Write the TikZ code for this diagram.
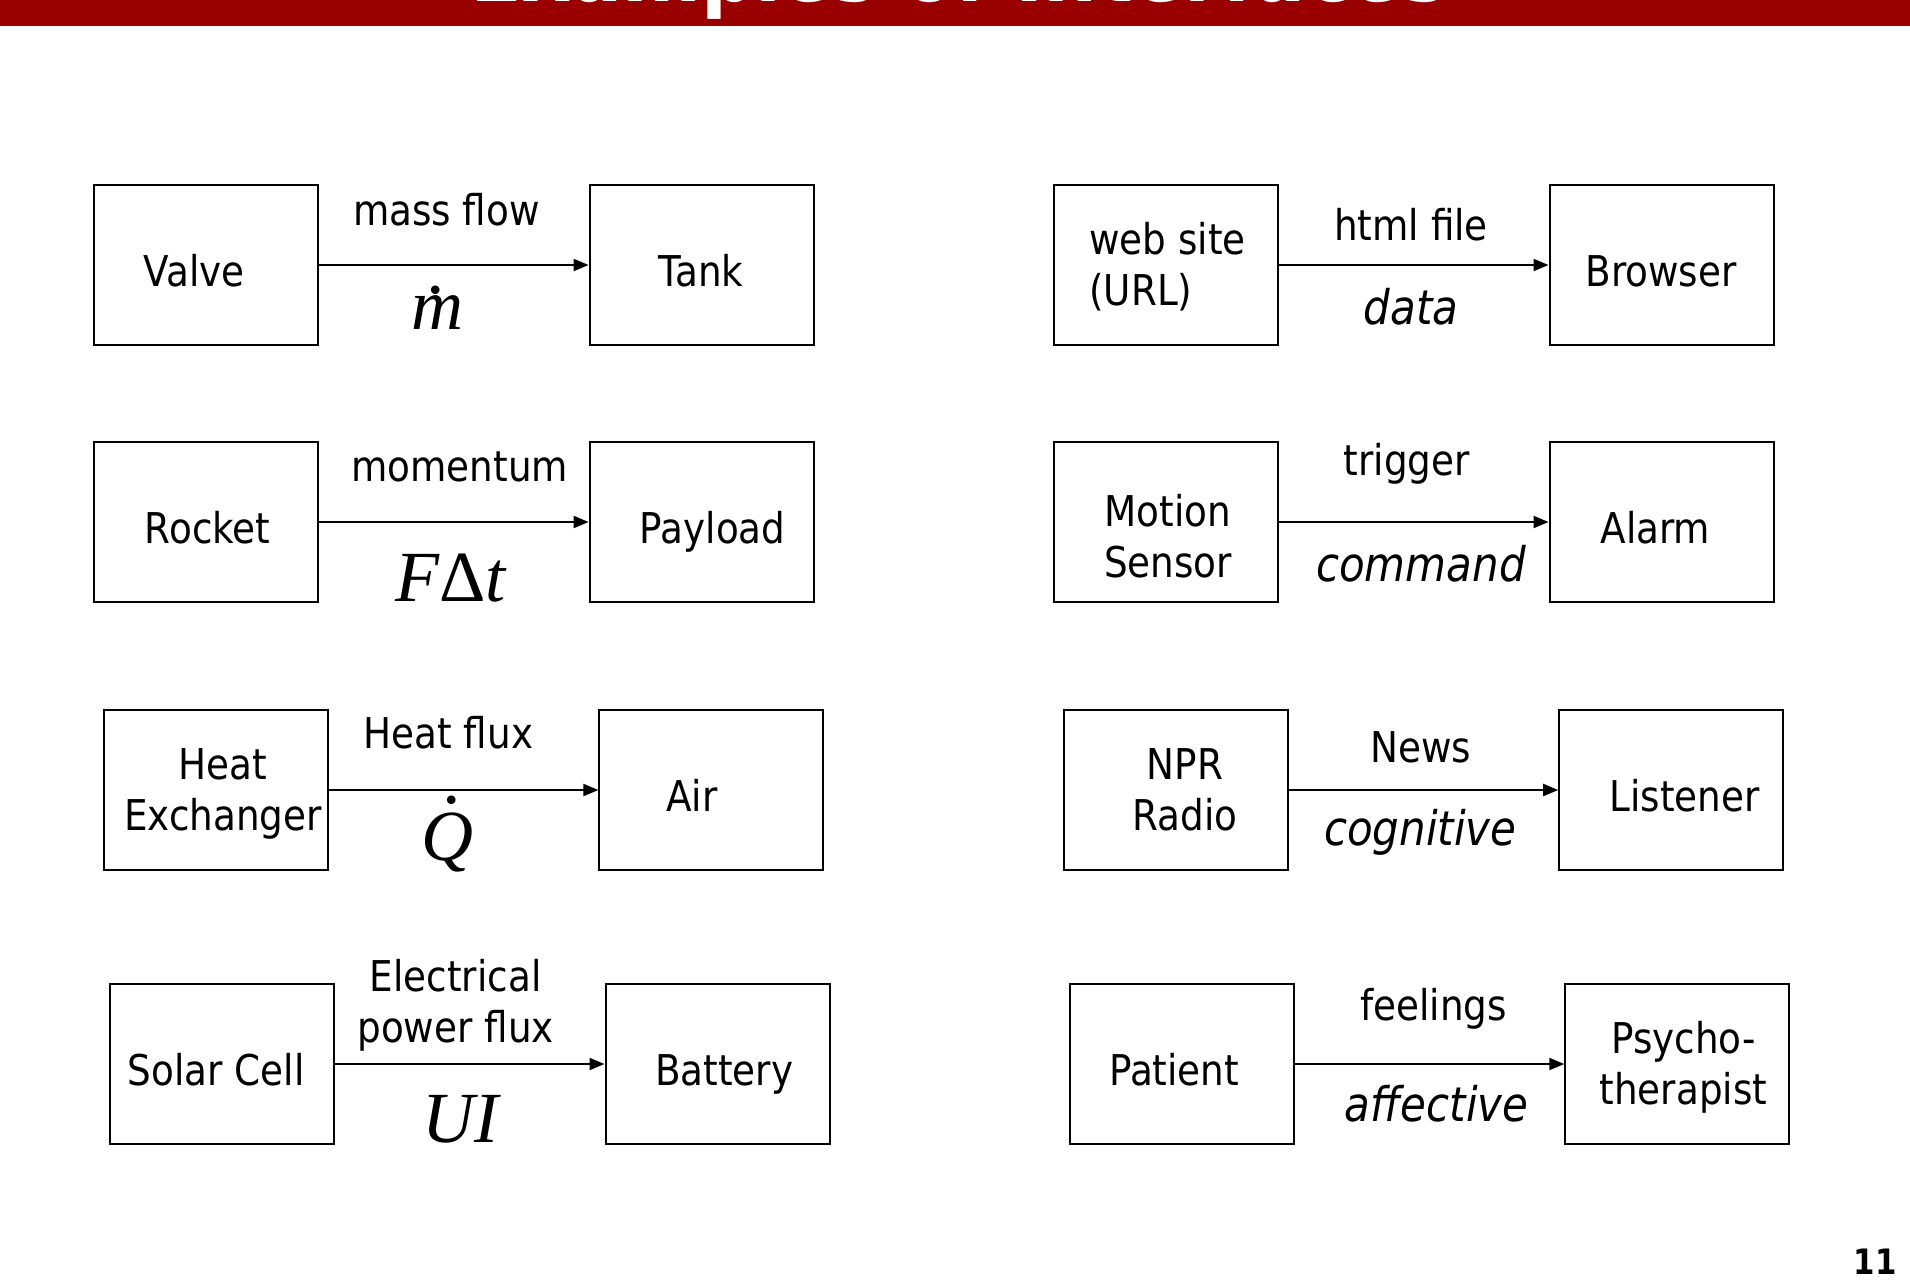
\documentclass[tikz,border=0pt]{standalone}
\usepackage{fontspec}
\setmainfont{DejaVu Sans}[FakeStretch=0.88]
\newfontfamily\tnr{Liberation Serif}
\usetikzlibrary{arrows.meta,calc}
\definecolor{banner}{RGB}{153,0,0}
% two stacked lines, baseline on the first one
\newcommand\stk[3][c]{\begin{tabular}[t]{@{}#1@{}}#2\\#3\end{tabular}}
% dot placed over a letter (time derivative)
\newcommand\dotover[3]{\ooalign{#3\cr\hidewidth\kern#1\raisebox{#2}{.}\hidewidth\cr}}
\tikzset{
  box/.style={draw, line width=2pt, minimum width=224pt, minimum height=160pt, inner sep=0pt},
  flow/.style={line width=2pt, -{Triangle[length=15pt,width=12pt]}},
  txt/.style={inner sep=0pt, anchor=base, font=\fontsize{42.4}{51}\selectfont},
  itx/.style={txt, font=\fontsize{47.7}{57}\selectfont\itshape},
  sym/.style={inner sep=0pt, anchor=base, font=\tnr\itshape\fontsize{72}{80}\selectfont},
}
\begin{document}
\begin{tikzpicture}[x=1pt,y=-1pt]
\path[use as bounding box] (0,0) rectangle (1910,1280);

% title bar
\begin{scope}
  \clip (0,0) rectangle (1910,26);
  \fill[banner] (0,0) rectangle (1910,26);
  \node[anchor=base, inner sep=0pt, text=white, font=\bfseries\fontsize{86}{90}\selectfont] (title) at (959,1.5) {Examples of Interfaces};
\end{scope}

% boxes
\node[box] (valve)     at (205.9,265) {};
\node[box] (tank)      at (701.6,265) {};
\node[box] (website)   at (1165.7,265) {};
\node[box] (browser)   at (1661.5,265) {};
\node[box] (rocket)    at (205.9,522) {};
\node[box] (payload)   at (701.6,522) {};
\node[box] (motion)    at (1165.7,522) {};
\node[box] (alarm)     at (1661.5,522) {};
\node[box] (hx)        at (215.6,790) {};
\node[box] (air)       at (711.4,790) {};
\node[box] (npr)       at (1175.5,790) {};
\node[box] (listener)  at (1671.2,790) {};
\node[box] (solar)     at (221.7,1064) {};
\node[box] (battery)   at (717.5,1064) {};
\node[box] (patient)   at (1181.6,1064) {};
\node[box] (therapist) at (1677.3,1064) {};

% connectors
\draw[flow] (valve.east)   -- (tank.west);
\draw[flow] (website.east) -- (browser.west);
\draw[flow] (rocket.east)  -- (payload.west);
\draw[flow] (motion.east)  -- (alarm.west);
\draw[flow] (hx.east)      -- (air.west);
\draw[flow] (npr.east)     -- (listener.west);
\draw[flow] (solar.east)   -- (battery.west);
\draw[flow] (patient.east) -- (therapist.west);

% box texts
\node[txt] (tValve)   at (194,286) {Valve};
\node[txt] (tTank)    at (701,286) {Tank};
\node[txt, anchor=base west] (tWeb) at (1089,254.6) {\stk[l]{web site}{(URL)}};
\node[txt] (tBrowser) at (1661,286) {Browser};
\node[txt] (tRocket)  at (207.7,543.3) {Rocket};
\node[txt] (tPayload) at (712.6,543.3) {Payload};
\node[txt] (tMotion)  at (1168,526.2) {\stk{Motion}{Sensor}};
\node[txt] (tAlarm)   at (1655.4,543.3) {Alarm};
\node[txt] (tHx)      at (223,779.6) {\stk{Heat}{Exchanger}};
\node[txt] (tAir)     at (691.9,811.3) {Air};
\node[txt] (tNpr)     at (1185,779.6) {\stk{NPR}{Radio}};
\node[txt] (tListen)  at (1684.6,811.3) {Listener};
\node[txt] (tSolar)   at (216.2,1085.3) {Solar Cell};
\node[txt] (tBattery) at (724.2,1085.3) {Battery};
\node[txt] (tPatient) at (1174.2,1085.3) {Patient};
\node[txt] (tTherap)  at (1683.4,1053.7) {\stk{Psycho-}{therapist}};

% connector labels
\node[txt] (lMass)  at (446.4,225) {mass flow};
\node[sym] (sMass)  at (437.3,329) {\dotover{0pt}{0.49em}{m}};
\node[txt] (lHtml)  at (1411,240) {html file};
\node[itx] (sHtml)  at (1411,324) {data};
\node[txt] (lMom)   at (459.8,481) {momentum};
\node[sym] (sMom)   at (450.7,601.7) {F{\upshape Δ}t};
\node[txt] (lTrig)  at (1406.9,475) {trigger};
\node[itx] (sTrig)  at (1420.9,581) {command};
\node[txt] (lHeat)  at (448.3,748) {Heat flux};
\node[sym] (sHeat)  at (447,860) {\dotover{12pt}{0.78em}{Q}};
\node[txt] (lNews)  at (1420.9,762.5) {News};
\node[itx] (sNews)  at (1420.3,845) {cognitive};
\node[txt] (lElec)  at (455.6,991.5) {\stk{Electrical}{power flux}};
\node[sym] (sElec)  at (460.4,1142.6) {UI};
\node[txt] (lFeel)  at (1433.7,1020.8) {feelings};
\node[itx] (sFeel)  at (1436.7,1121.8) {affective};

% page number
\node[anchor=base east, inner sep=0pt, font=\bfseries\fontsize{35}{40}\selectfont] (pageno) at (1897,1274) {11};
\end{tikzpicture}
\end{document}
